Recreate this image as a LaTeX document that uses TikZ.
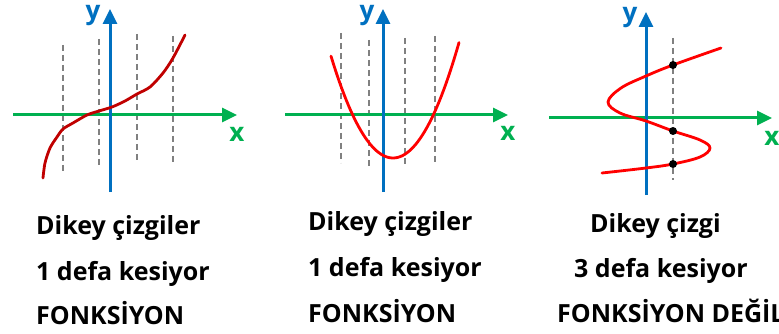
\documentclass[tikz,border=0pt]{standalone}
\usepackage{fontspec}
\setmainfont{Open Sans}
\usetikzlibrary{arrows.meta}

\definecolor{axblue}{HTML}{0070C0}
\definecolor{axgreen}{HTML}{00B050}
\definecolor{darkred}{HTML}{C00000}
\definecolor{brightred}{HTML}{FF0000}

\begin{document}
\begin{tikzpicture}[
    x=1pt, y=-1pt,
    >={Triangle[length=15pt, width=14pt]},
    xaxis/.style={->, line width=3pt, axgreen},
    yaxis/.style={->, line width=3pt, axblue},
    vline/.style={draw=gray, line width=1.5pt, dash pattern=on 6pt off 4pt},
    curve/.style={line width=2.8pt, line cap=round},
    lbl/.style={font=\bfseries\fontsize{26}{26}\selectfont, inner sep=0pt, anchor=base},
    txt/.style={font=\bfseries\fontsize{25}{28}\selectfont, inner sep=0pt, anchor=base west},
    hit/.style={circle, fill=black, inner sep=0pt, minimum size=8pt}
]
\useasboundingbox (0,0) rectangle (779,334);

% first graph: rising curve
\draw[vline] (63,45) -- (63,173);
\draw[vline] (99,39) -- (99,167);
\draw[vline] (137,34) -- (137,162);
\draw[vline] (173,36) -- (173,164);
\draw[xaxis] (13,115) -- (237,115);
\draw[yaxis] (110,192) -- (110,9);
\draw[curve, darkred] plot[smooth, tension=0.5] coordinates {
    (43,178) (45,163) (50,148) (57,137) (63,129) (73,123) (87,115)
    (99,111) (112,107) (125,101) (137,94) (150,87) (163,73) (173,58) (185,35)};
\node[lbl, axgreen] (x1) at (237,142) {x};
\node[lbl, axblue] (y1) at (93,20) {y};

% second graph: parabola
\draw[vline] (341,33) -- (341,163);
\draw[vline] (369,40) -- (369,168);
\draw[vline] (405,38) -- (405,167);
\draw[vline] (435,36) -- (435,165);
\draw[xaxis] (285,115) -- (508,115);
\draw[yaxis] (383,192) -- (383,9);
\draw[curve, brightred, domain=331:459, samples=60]
    plot (\x, {158 - 0.0265*(\x-393)*(\x-393)});
\node[lbl, axgreen] (x2) at (508,141) {x};
\node[lbl, axblue] (y2) at (367,20) {y};

% third graph: not a function
\draw[vline] (673,38) -- (673,180);
\draw[xaxis] (549,118) -- (772,118);
\draw[yaxis] (646,195) -- (646,12);
\draw[curve, brightred] plot[smooth, tension=0.6] coordinates {
    (721,48) (673,65) (646,76) (621,88) (608,102) (620,113) (646,121)
    (673,131) (700,140) (710,148) (700,157) (673,164) (646,168) (602,173)};
\node[hit] (p1) at (673,65) {};
\node[hit] (p2) at (673,131) {};
\node[hit] (p3) at (673,164) {};
\node[lbl, axgreen] (x3) at (772,146) {x};
\node[lbl, axblue] (y3) at (630,22) {y};

% captions
\node[txt] (a1) at (36,234) {Dikey çizgiler};
\node[txt] (a2) at (36,280) {1 defa kesiyor};
\node[txt] (a3) at (36,324) {FONKSİYON};
\node[txt] (b1) at (308,230) {Dikey çizgiler};
\node[txt] (b2) at (308,276) {1 defa kesiyor};
\node[txt] (b3) at (308,322) {FONKSİYON};
\node[txt] (c1) at (590,232) {Dikey çizgi};
\node[txt] (c2) at (574,277) {3 defa kesiyor};
\node[txt] (c3) at (557,322) {FONKSİYON DEĞİL};
\end{tikzpicture}
\end{document}
